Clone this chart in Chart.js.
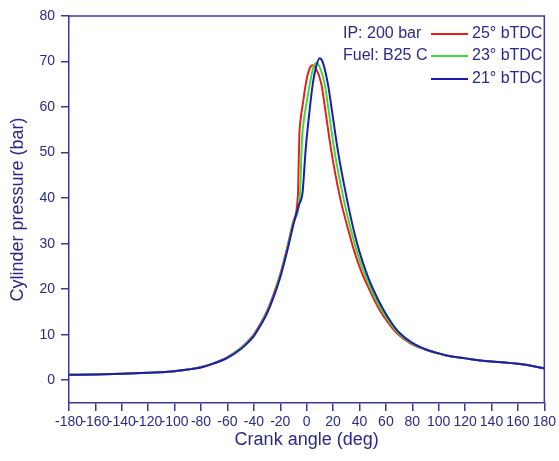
<!DOCTYPE html>
<html>
<head>
<meta charset="utf-8">
<script src="https://cdn.jsdelivr.net/npm/chart.js@4"></script>
<style>
  html, body { margin: 0; padding: 0; background: #fff; }
  #wrap { width: 559px; height: 461px; }
</style>
</head>
<body>
<div id="wrap"><canvas id="pressureChart" width="559" height="461"></canvas></div>
<script>
// crank angle (deg) and cylinder pressure (bar) for each injection timing
const angle25 = [-180,-160,-140,-120,-100,-90,-80,-70,-60,-50,-45,-40,-35,-30,-25,-20,-15,-10,-6.6,-6.1,-5.5,-4.5,-3,-1,1,3,4.2,7,11,15,18.6,25,32,36.2,41.5,47,54.5,62.5,67.8,78,89,100,110,120,130,140,150,160,170,180];
const pressure25 = [1.2,1.25,1.4,1.65,2.0,2.35,2.9,3.8,5.1,7.1,8.4,10.1,12.4,15.2,18.9,23.3,28.8,35.0,40.8,47,54,57.5,60.5,64.5,67.4,68.9,69.2,68.5,65.2,57.5,50.5,40.5,32.5,28.2,23.8,20.2,15.8,12.3,10.5,8.2,6.8,5.88,5.2,4.8,4.4,4.1,3.9,3.6,3.2,2.6];

const angle23 = [-180,-160,-140,-120,-100,-90,-80,-70,-60,-50,-45,-40,-35,-30,-25,-20,-15,-10,-5,-4.3,-3.5,-2.2,0,2,4,5.5,7,9.5,13.5,17.5,21,27.5,34,38.1,43.3,48.5,56,63.8,68.9,79,89.5,100,110,120,130,140,150,160,170,180];
const pressure23 = [1.2,1.25,1.4,1.65,2.0,2.35,2.85,3.75,5.0,7.0,8.3,9.9,12.2,15.0,18.6,23.0,28.5,34.7,41.2,47,53,57,61,64.5,67.5,69,69.6,69,65.2,57.5,50.5,40.5,32.5,28.2,23.8,20.2,15.8,12.3,10.5,8.2,6.8,5.89,5.2,4.8,4.4,4.1,3.9,3.6,3.2,2.6];

const angle21 = [-180,-160,-140,-120,-100,-90,-80,-70,-60,-50,-45,-40,-35,-30,-25,-20,-15,-10,-6,-3,-2,-0.8,1.7,4.7,7.2,9.8,12,16,20,23.6,30,36,40,45,50,57.5,65,70,80,90,100,110,120,130,140,150,160,170,180];
const pressure21 = [1.2,1.25,1.4,1.65,2.0,2.35,2.8,3.7,4.9,6.8,8.1,9.7,12.0,14.7,18.3,22.6,28.1,34.2,38.4,41.5,45.5,50.5,57.9,65.2,68.9,70.7,70,65.2,57.5,50.5,40.5,32.5,28.2,23.8,20.2,15.8,12.3,10.5,8.2,6.8,5.9,5.2,4.8,4.4,4.1,3.9,3.6,3.2,2.6];

const timingLabels = ['25° bTDC', '23° bTDC', '21° bTDC'];
const noteLines = ['IP: 200 bar', 'Fuel: B25 C'];
const xTicks = [-180,-160,-140,-120,-100,-80,-60,-40,-20,0,20,40,60,80,100,120,140,160,180];
const yTicks = [0,10,20,30,40,50,60,70,80];

const navy = '#2a2a86';
const frameColor = '#3a3a8e';
const fontFamily = '"Liberation Sans", Arial, sans-serif';

function toPoints(xs, ys) {
    return xs.map((x, i) => ({ x: x, y: ys[i] }));
}

// box round the plot and the legend in its top right corner
const framePlugin = {
    id: 'frame',
    afterDraw(chart) {
        const ctx = chart.ctx;
        const a = chart.chartArea;
        ctx.save();
        ctx.strokeStyle = frameColor;
        ctx.lineWidth = 1.5;
        ctx.beginPath();
        ctx.moveTo(a.left, a.top);
        ctx.lineTo(a.right, a.top);
        ctx.lineTo(a.right, a.bottom);
        ctx.stroke();

        ctx.font = '16px ' + fontFamily;
        ctx.textBaseline = 'middle';
        const rows = [34, 56, 79];
        chart.data.datasets.forEach((ds, i) => {
            ctx.strokeStyle = ds.borderColor;
            ctx.lineWidth = 2;
            ctx.beginPath();
            ctx.moveTo(431, rows[i]);
            ctx.lineTo(468, rows[i]);
            ctx.stroke();
            ctx.fillStyle = navy;
            ctx.textAlign = 'left';
            ctx.fillText(ds.label, 472, rows[i]);
        });
        noteLines.forEach((t, i) => ctx.fillText(t, 343, rows[i]));
        ctx.restore();
    }
};

const ctx = document.getElementById('pressureChart').getContext('2d');
new Chart(ctx, {
    type: 'line',
    data: {
        datasets: [{
            label: timingLabels[0],
            data: toPoints(angle25, pressure25),
            borderColor: '#e3211c',
            order: 2
        }, {
            label: timingLabels[1],
            data: toPoints(angle23, pressure23),
            borderColor: '#3ddc3a',
            order: 1
        }, {
            label: timingLabels[2],
            data: toPoints(angle21, pressure21),
            borderColor: '#1c1cb4',
            order: 0
        }]
    },
    options: {
        responsive: false,
        animation: false,
        layout: { padding: { top: 16, right: 13, left: 0, bottom: 0 } },
        elements: {
            line: { borderWidth: 2, cubicInterpolationMode: 'monotone', fill: false },
            point: { radius: 0 }
        },
        plugins: {
            legend: { display: false },
            tooltip: { enabled: false }
        },
        scales: {
            x: {
                type: 'linear',
                min: -180,
                max: 180,
                afterFit(scale) { scale.height = 58; },
                afterBuildTicks(scale) { scale.ticks = xTicks.map(v => ({ value: v })); },
                ticks: {
                    autoSkip: false,
                    maxRotation: 0,
                    padding: 3,
                    color: navy,
                    font: { family: fontFamily, size: 14 }
                },
                grid: { drawOnChartArea: false, tickLength: 8, color: frameColor, lineWidth: 1.5 },
                border: { color: frameColor, width: 1.5 },
                title: {
                    display: true,
                    text: 'Crank angle (deg)',
                    color: navy,
                    padding: { top: 4, bottom: 10 },
                    font: { family: fontFamily, size: 18 }
                }
            },
            y: {
                min: -5,
                max: 80,
                afterFit(scale) { scale.width = 69; },
                afterBuildTicks(scale) { scale.ticks = yTicks.map(v => ({ value: v })); },
                ticks: {
                    padding: 6,
                    color: navy,
                    font: { family: fontFamily, size: 14 }
                },
                grid: { drawOnChartArea: false, tickLength: 8, color: frameColor, lineWidth: 1.5 },
                border: { color: frameColor, width: 1.5 },
                title: {
                    display: true,
                    text: 'Cylinder pressure (bar)',
                    color: navy,
                    padding: { top: 7, bottom: 7 },
                    font: { family: fontFamily, size: 18 }
                }
            }
        }
    },
    plugins: [framePlugin]
});
</script>
</body>
</html>
